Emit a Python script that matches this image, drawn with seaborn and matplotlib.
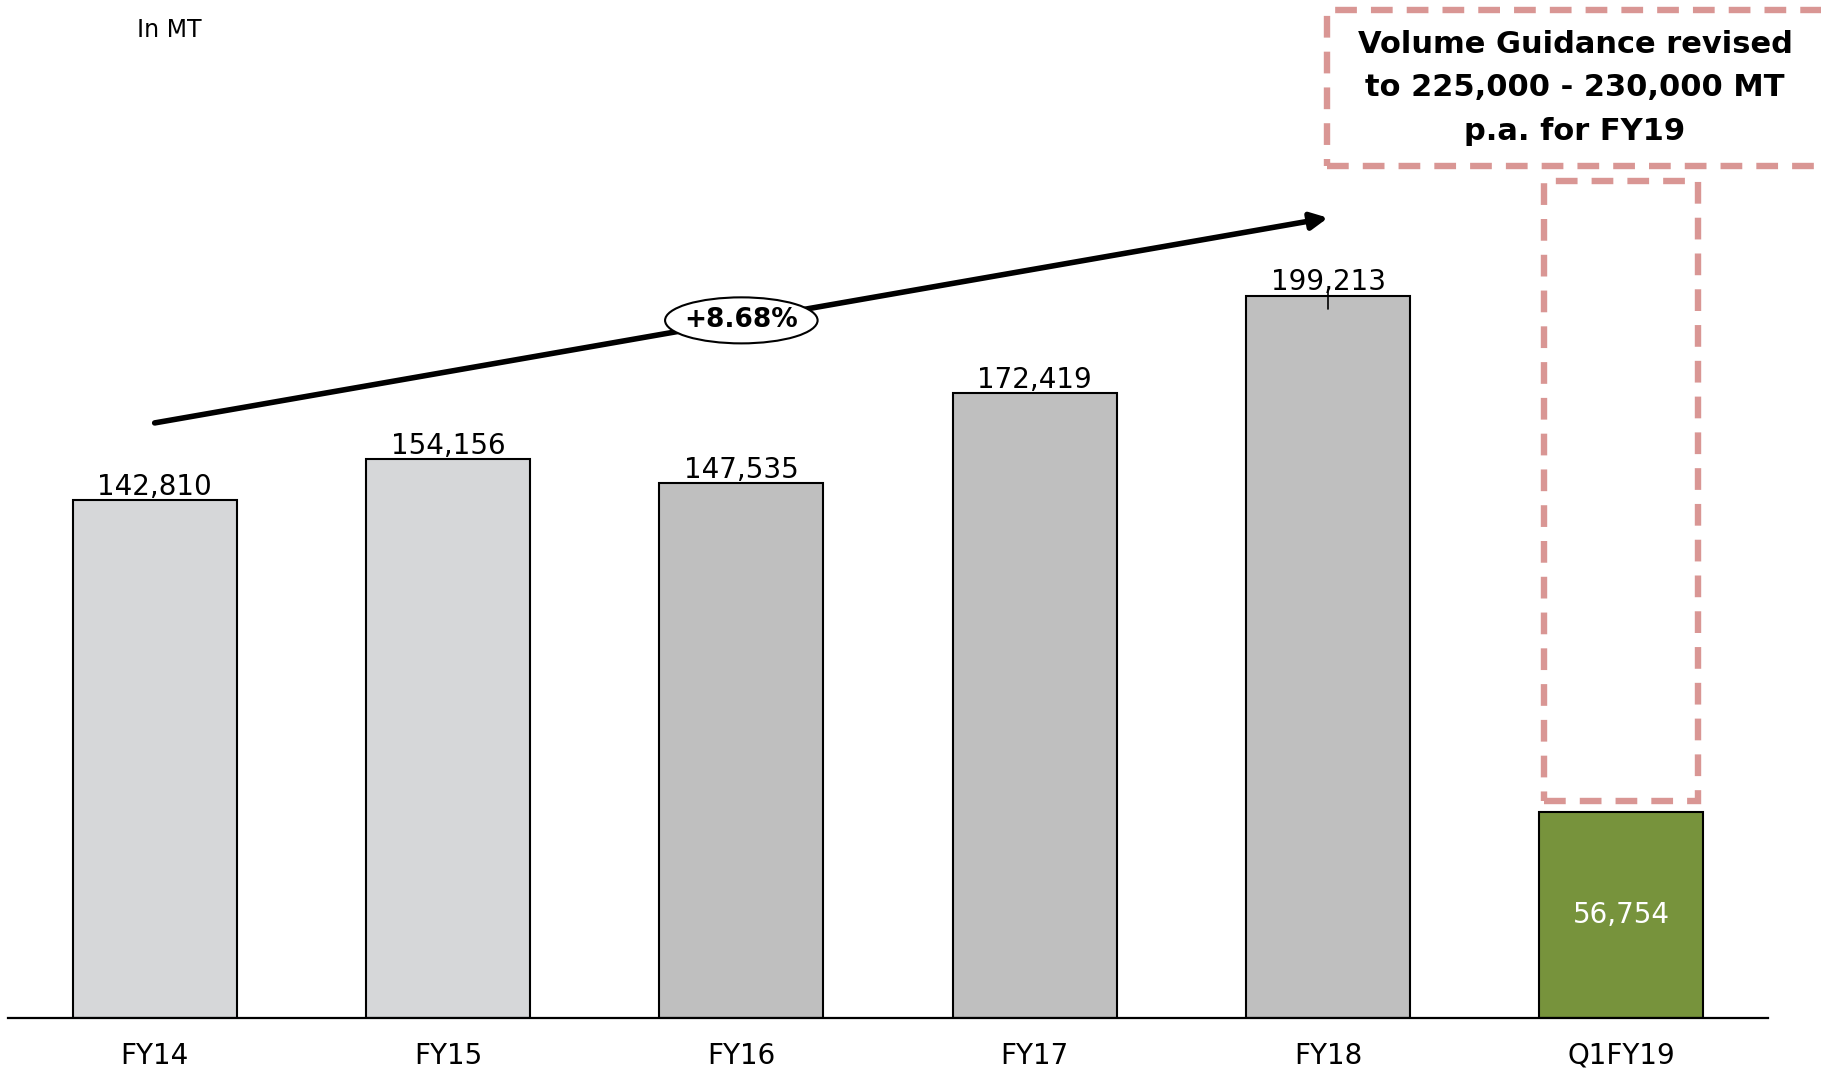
import seaborn as sns
import matplotlib.pyplot as plt
import pandas as pd
from matplotlib.patches import Rectangle, Ellipse

# data
years = ["FY14", "FY15", "FY16", "FY17", "FY18", "Q1FY19"]
volumes = [142810, 154156, 147535, 172419, 199213, 56754]
cagr_label = "+8.68%"
guidance_text = "Volume Guidance revised\nto 225,000 - 230,000 MT\np.a. for FY19"
guidance_low, guidance_high = 60000, 231000

bar_colors = ["#D6D7D9", "#D6D7D9", "#BFBFBF", "#BFBFBF", "#BFBFBF", "#77933C"]
dash_color = "#D99694"

df = pd.DataFrame({"Year": years, "Volume": volumes})

sns.set_style("white")
plt.rcParams["font.family"] = ["DejaVu Sans"]
plt.rcParams["text.color"] = "black"
plt.rcParams["xtick.color"] = "black"

fig = plt.figure(figsize=(18.21, 10.73), dpi=100)
ax = fig.add_axes([8 / 1821, 55 / 1073, 1760 / 1821, 1018 / 1073])

sns.barplot(data=df, x="Year", y="Volume", hue="Year", palette=bar_colors,
            saturation=1, width=0.56, edgecolor="black", linewidth=1.5,
            legend=False, ax=ax)

ax.set_xlim(-0.5, 5.5)
ax.set_ylim(0, 280900)
for s in ["top", "right", "left"]:
    ax.spines[s].set_visible(False)
ax.spines["bottom"].set_linewidth(1.6)
ax.spines["bottom"].set_color("black")
ax.set_yticks([])
ax.set_xlabel("")
ax.set_ylabel("")
ax.tick_params(axis="x", length=0, pad=17, labelsize=20, labelcolor="black")

# value labels
for i, v in enumerate(volumes):
    if i == len(volumes) - 1:
        ax.text(i, v / 2, f"{v:,}", ha="center", va="center",
                fontsize=20, color="white")
    else:
        ax.annotate(f"{v:,}", (i, v), xytext=(0, 4), textcoords="offset points",
                    ha="center", va="baseline", fontsize=20, color="black")

# small tick at FY18 top
ax.plot([4, 4], [195700, 200900], color="black", lw=1.2)

# growth arrow
ax.annotate("", xy=(4.0, 220800), xytext=(0, 164200),
            arrowprops=dict(arrowstyle="-|>", color="black", lw=4,
                            mutation_scale=25, shrinkA=0, shrinkB=0))
ax.add_patch(Ellipse((2.0, 192500), 0.52, 12700, facecolor="white",
                     edgecolor="black", lw=1.5, zorder=5))
ax.text(2.0, 192500, cagr_label, ha="center", va="center", fontsize=19,
        fontweight="bold", zorder=6)

# dashed guidance box above Q1FY19
ax.add_patch(Rectangle((5 - 0.263, guidance_low), 0.526, guidance_high - guidance_low,
                       fill=False, edgecolor=dash_color, lw=4.6,
                       linestyle=(0, (3.4, 2.2)), zorder=4))

# guidance text box (figure coords)
fig.patches.append(Rectangle((1327 / 1821, 1 - 166 / 1073), 520 / 1821, 156 / 1073,
                             transform=fig.transFigure, fill=False,
                             edgecolor=dash_color, lw=4.6, linestyle=(0, (3.4, 2.2))))
fig.text(1575 / 1821, 1 - 88 / 1073, guidance_text, ha="center", va="center",
         fontsize=22, fontweight="bold", linespacing=1.62)

fig.text(137 / 1821, 1 - 30 / 1073, "In MT", ha="left", va="center", fontsize=17)

fig.savefig("out.png", dpi=100)
plt.close()
